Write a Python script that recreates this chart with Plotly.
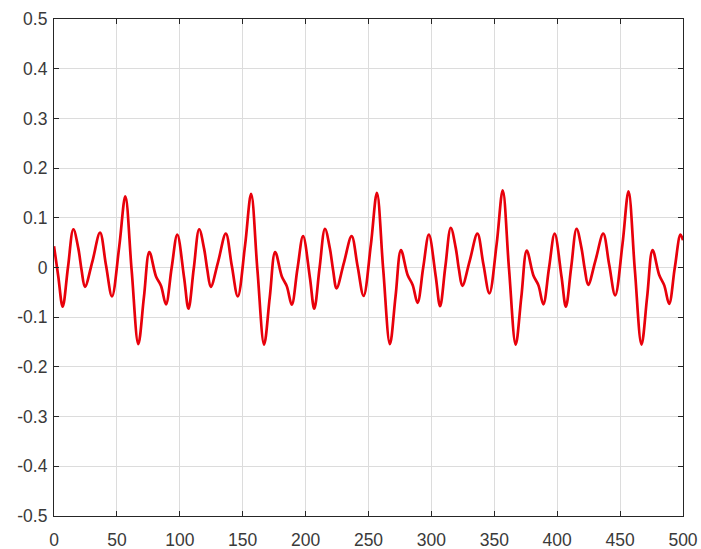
import plotly.graph_objects as go

# Key points (x, y) for each 100-unit stretch
p1_x = [0, 3.4, 6.9, 11.1, 15.4, 19.3, 21.9, 24.6, 30.5, 36.6, 41.3, 46.1, 51.9, 56.7, 61.7, 67.0, 71.5, 75.8, 81.1, 85.1, 89.0, 93.5, 98.0]
p1_y = [0.043, -0.018, -0.079, 0.000, 0.077, 0.039, -0.005, -0.039, 0.012, 0.070, 0.005, -0.058, 0.043, 0.143, -0.005, -0.154, -0.059, 0.031, -0.018, -0.037, -0.074, -0.001, 0.066]

p2_x = [103.4, 106.9, 111.1, 115.4, 119.3, 121.9, 124.6, 130.5, 136.6, 141.3, 146.1, 151.9, 156.7, 161.7, 167.0, 171.5, 175.8, 181.1, 185.1, 189.0, 193.5, 198.0]
p2_y = [-0.020, -0.083, -0.002, 0.077, 0.038, -0.005, -0.039, 0.012, 0.068, 0.004, -0.058, 0.045, 0.148, -0.005, -0.155, -0.060, 0.031, -0.018, -0.038, -0.075, -0.003, 0.063]

p3_x = [203.4, 206.9, 211.1, 215.4, 219.3, 221.9, 224.6, 230.5, 236.6, 241.3, 246.1, 251.9, 256.7, 261.7, 267.0, 271.5, 275.8, 281.1, 285.1, 289.0, 293.5, 298.0]
p3_y = [-0.020, -0.083, -0.001, 0.078, 0.038, -0.006, -0.042, 0.010, 0.063, 0.003, -0.057, 0.046, 0.150, -0.004, -0.154, -0.058, 0.035, -0.015, -0.035, -0.071, 0.000, 0.066]

p4_x = [303.4, 306.9, 311.1, 315.4, 319.3, 321.9, 324.6, 330.5, 336.6, 341.3, 346.1, 351.9, 356.7, 361.7, 367.0, 371.5, 375.8, 381.1, 385.1, 389.0, 393.5, 398.0]
p4_y = [-0.017, -0.078, 0.002, 0.080, 0.040, -0.004, -0.037, 0.014, 0.068, 0.007, -0.052, 0.048, 0.155, -0.003, -0.155, -0.059, 0.034, -0.016, -0.036, -0.074, -0.001, 0.068]

p5_x = [403.4, 406.9, 411.1, 415.4, 419.3, 421.9, 424.6, 430.5, 436.6, 441.3, 446.1, 451.9, 456.7, 461.7, 467.0, 471.5, 475.8, 481.1, 485.1, 489.0, 493.5, 498.0, 500.0]
p5_y = [-0.018, -0.079, 0.000, 0.078, 0.039, -0.003, -0.035, 0.015, 0.068, 0.006, -0.056, 0.047, 0.153, -0.004, -0.155, -0.059, 0.035, -0.015, -0.036, -0.073, 0.000, 0.066, 0.055]

x_ticks = [0, 50, 100, 150, 200, 250, 300, 350, 400, 450, 500]
x_labels = ["0", "50", "100", "150", "200", "250", "300", "350", "400", "450", "500"]
y_ticks = [-0.5, -0.4, -0.3, -0.2, -0.1, 0, 0.1, 0.2, 0.3, 0.4, 0.5]
y_labels = ["-0.5", "-0.4", "-0.3", "-0.2", "-0.1", "0", "0.1", "0.2", "0.3", "0.4", "0.5"]

xs = p1_x + p2_x + p3_x + p4_x + p5_x
ys = p1_y + p2_y + p3_y + p4_y + p5_y

fig = go.Figure()
fig.add_trace(go.Scatter(
    x=xs, y=ys, mode="lines",
    line=dict(color="#e8000b", width=2.7, shape="spline", smoothing=1.0),
    showlegend=False, hoverinfo="skip",
))

axis_common = dict(
    showgrid=True, gridcolor="#dcdcdc", gridwidth=1,
    showline=True, linecolor="#262626", linewidth=1.2, mirror="ticks",
    ticks="inside", ticklen=5, tickcolor="#262626", tickwidth=1,
    zeroline=False, automargin=False,
    tickfont=dict(family="Liberation Sans, Arial, sans-serif", size=17.5, color="#3a3a3a"),
)

fig.update_layout(
    width=701, height=549,
    margin=dict(l=54, r=18, t=19, b=33),
    paper_bgcolor="white", plot_bgcolor="white",
    xaxis=dict(range=[0, 500], tickvals=x_ticks, ticktext=x_labels,
               ticklabelstandoff=8, **axis_common),
    yaxis=dict(range=[-0.5, 0.5], tickvals=y_ticks, ticktext=y_labels,
               ticklabelstandoff=2, **axis_common),
)

fig.write_html("out.html")
